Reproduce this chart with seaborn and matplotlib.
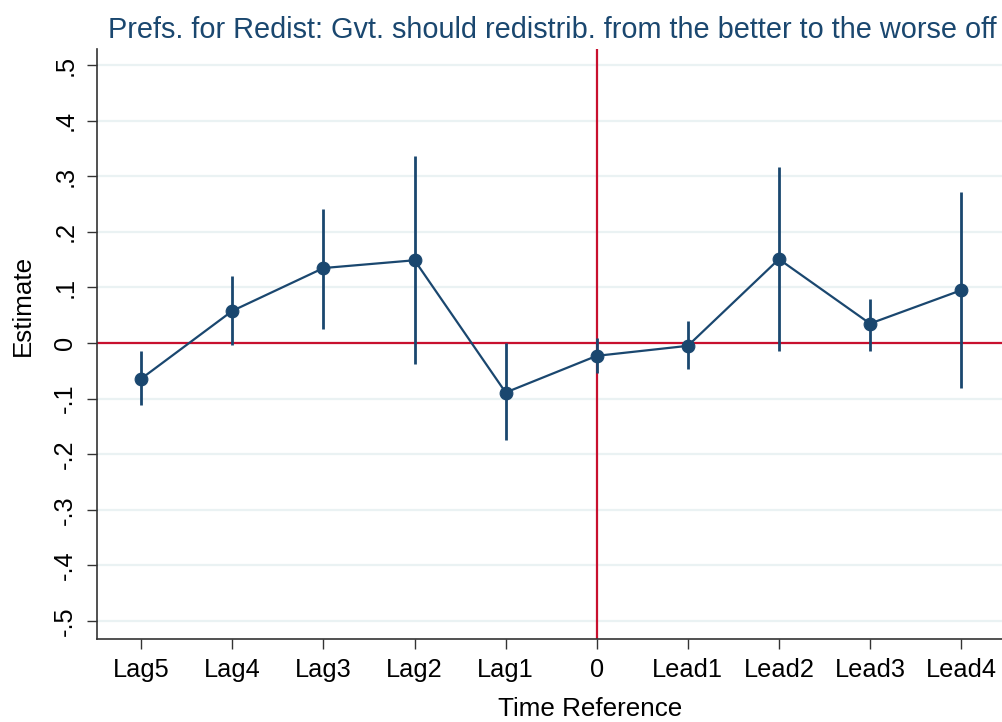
import numpy as np
import pandas as pd
import matplotlib
matplotlib.use("Agg")
import matplotlib.pyplot as plt
import seaborn as sns

categories = ["Lag5", "Lag4", "Lag3", "Lag2", "Lag1", "0", "Lead1", "Lead2", "Lead3", "Lead4"]
estimates = [-0.064, 0.058, 0.135, 0.149, -0.089, -0.023, -0.005, 0.151, 0.035, 0.095]
ci_low = [-0.111, -0.004, 0.026, -0.038, -0.175, -0.053, -0.047, -0.014, -0.014, -0.080]
ci_high = [-0.014, 0.121, 0.242, 0.337, 0.000, 0.009, 0.040, 0.316, 0.080, 0.272]
yticks = [-0.5, -0.4, -0.3, -0.2, -0.1, 0.0, 0.1, 0.2, 0.3, 0.4, 0.5]
ytick_labels = ["-.5", "-.4", "-.3", "-.2", "-.1", "0", ".1", ".2", ".3", ".4", ".5"]
title = "Prefs. for Redist: Gvt. should redistrib. from the better to the worse off"

sns.set_theme(style="white")
plt.rcParams['font.family'] = ['Liberation Sans', 'DejaVu Sans']

navy = "#1a476f"
red = "#c8102e"
grid_c = "#eaf2f3"

df = pd.DataFrame({"pos": np.arange(len(categories)), "est": estimates,
                   "lo": ci_low, "hi": ci_high})

fig = plt.figure(figsize=(10.03, 7.22), dpi=100)
ax = fig.add_axes([0.0964, 0.1154, 0.9036, 0.8166])

for yv in yticks:
    ax.axhline(yv, color=grid_c, lw=1.6, zorder=0)
ax.axhline(0, color=red, lw=1.6, zorder=1)
ax.axvline(5, color=red, lw=1.6, zorder=1)

ax.vlines(df["pos"], df["lo"], df["hi"], color=navy, lw=2, zorder=3)
sns.lineplot(data=df, x="pos", y="est", color=navy, lw=1.6, ax=ax, zorder=3)
sns.scatterplot(data=df, x="pos", y="est", color=navy, s=85, edgecolor=navy, ax=ax, zorder=4)

ax.set_xlim(-0.49, 9.46)
ax.set_ylim(-0.532, 0.529)
ax.set_xticks(range(len(categories)))
ax.set_xticklabels(categories, fontsize=18.3, color="black")
ax.set_yticks(yticks)
ax.set_yticklabels(ytick_labels, fontsize=18.3, rotation=90, va="center", color="black")
ax.tick_params(axis="both", direction="out", length=7, width=1, color="#333333", bottom=True, left=True, pad=7)

for s in ["top", "right"]:
    ax.spines[s].set_visible(False)
for s in ["left", "bottom"]:
    ax.spines[s].set_color("#333333")
    ax.spines[s].set_linewidth(1.2)

ax.set_xlabel("Time Reference", fontsize=18.7, color="black", va="center")
ax.set_ylabel("Estimate", fontsize=18.7, color="black", va="center")
ax.xaxis.set_label_coords(0.544, -0.119)
ax.yaxis.set_label_coords(-0.0813, 0.566)
fig.text(0.551, 0.958, title, fontsize=20.8, color=navy, ha="center", va="center")

fig.savefig("out.png", dpi=100)
